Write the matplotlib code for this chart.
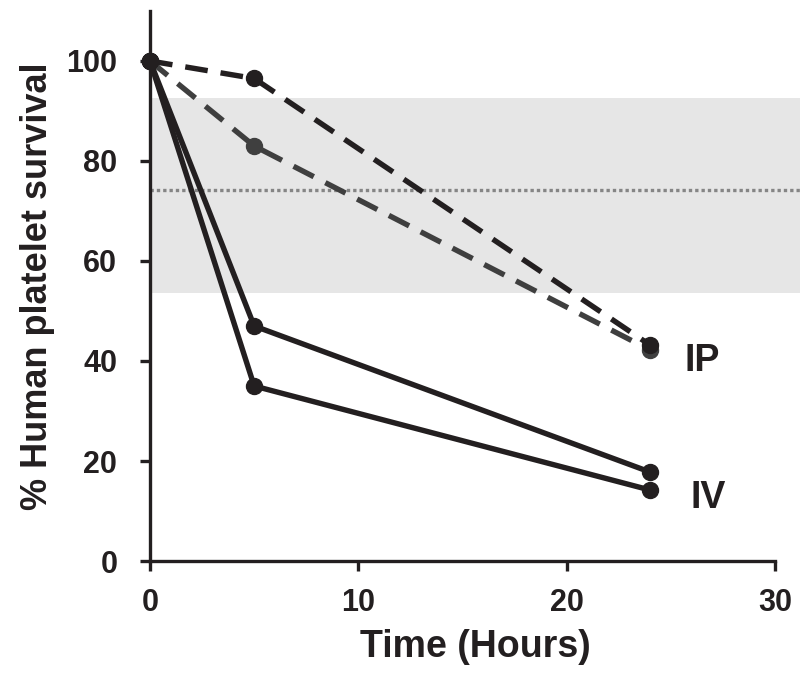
import numpy as np
import matplotlib.pyplot as plt

plt.rcParams['font.family'] = ['Liberation Sans', 'DejaVu Sans']
plt.rcParams['font.weight'] = 'bold'

hours = [0, 5, 24]
ip_a = [100, 96.5, 43.2]
ip_b = [100, 83, 42.2]
iv_a = [100, 47, 17.8]
iv_b = [100, 35, 14.2]
band_low, band_high = 53.6, 92.6
mean_line = 74.2

fig = plt.figure(figsize=(8, 6.73), dpi=100)
ax = fig.add_axes([0.1875, 0.1664, 0.8125, 0.8173])

ax.axhspan(band_low, band_high, color='#e6e6e6', lw=0, zorder=0)
ax.axhline(mean_line, color='#858585', lw=2.4, ls=(0, (1, 0.9)), zorder=1)

dark = '#231f20'
ms = 11.5
lw = 3.9
ax.plot(hours, ip_b, color='#3f3f3f', lw=lw, ls=(0, (4.2, 2.4)), marker='o', ms=ms, clip_on=False)
ax.plot(hours, ip_a, color=dark, lw=lw, ls=(0, (4.2, 2.4)), marker='o', ms=ms, clip_on=False)
ax.plot(hours, iv_a, color=dark, lw=lw, marker='o', ms=ms, clip_on=False)
ax.plot(hours, iv_b, color=dark, lw=lw, marker='o', ms=ms, clip_on=False)

ax.text(26.5, 40, 'IP', fontsize=27, fontweight='bold', ha='center', va='center', color=dark)
ax.text(26.8, 12.6, 'IV', fontsize=27, fontweight='bold', ha='center', va='center', color=dark)

ax.set_xlim(0, 31.2)
ax.set_ylim(0, 110)
ax.spines['top'].set_visible(False)
ax.spines['right'].set_visible(False)
ax.spines['bottom'].set_bounds(0, 30)
for s in ['left', 'bottom']:
    ax.spines[s].set_linewidth(2.4)
    ax.spines[s].set_color(dark)
ax.set_xticks([0, 10, 20, 30])
ax.set_yticks([0, 20, 40, 60, 80, 100])
ax.tick_params(width=2.4, length=7.5, color=dark, labelsize=22, labelcolor=dark)
ax.tick_params(axis='y', pad=16)
ax.tick_params(axis='x', pad=12)
ax.set_xlabel('Time (Hours)', fontsize=27, fontweight='bold', labelpad=8, color=dark)
ax.set_ylabel('% Human platelet survival', fontsize=26, fontweight='bold', labelpad=8, color=dark)

fig.savefig('out.png', dpi=100)
